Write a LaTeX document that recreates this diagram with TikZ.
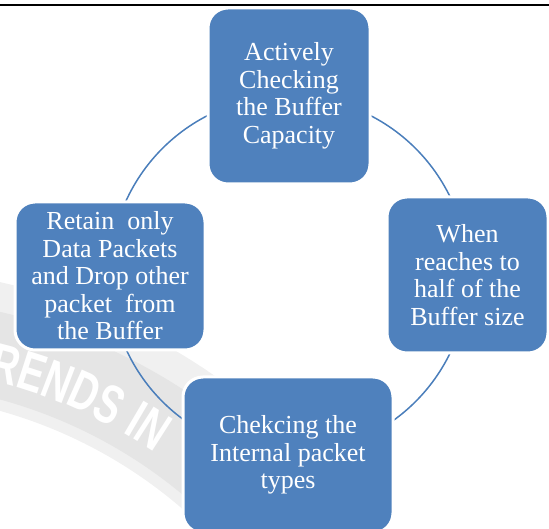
\documentclass[tikz,border=0pt]{standalone}
\usepackage{fontspec}
\setmainfont{Liberation Serif}
\newfontfamily\boxfont{Liberation Serif}
\newfontfamily\wmfont[FakeStretch=0.7]{Liberation Sans}
\usetikzlibrary{decorations.text}
\definecolor{boxblue}{HTML}{4F81BD}
\definecolor{arcblue}{HTML}{4A7EBB}
\definecolor{wmgray}{HTML}{E5E5E5}
\definecolor{wmfaint}{HTML}{F0F0F0}
\begin{document}
\begin{tikzpicture}[x=1pt,y=1pt,
  cyclebox/.style={draw=white, line width=3pt, fill=boxblue, rounded corners=20pt,
    text=white, align=center, inner sep=0pt, font=\boxfont\fontsize{26}{27.5}\selectfont},
  cyclearc/.style={draw=arcblue, line width=1.5pt},
  topline/.style={draw=black, line width=2pt}]
\useasboundingbox (0,0) rectangle (549,529);
\clip (0,0) rectangle (549,529);
% watermark band and text
\coordinate (wm) at (-127,-337);
\draw[wmfaint, line width=125pt] (wm) ++(98:535) arc[start angle=98, end angle=30, radius=535];
\draw[wmgray, line width=85pt] (wm) ++(98:526) arc[start angle=98, end angle=30, radius=526];
\path[decorate, decoration={text along path, text color=white,
   text={|\wmfont\bfseries\fontsize{55}{55}\selectfont|RENDS IN}, text align=left}]
   (wm) ++(76.8:500) arc[start angle=76.8, end angle=40, radius=500];
% top rule
\coordinate (tl) at (0,524);
\coordinate (tr) at (549,524);
\draw[topline] (tl) -- (tr);
% cycle
\coordinate (c) at (289,254);
\draw[cyclearc] (c) circle[radius=179];
\node[cyclebox, minimum width=162pt, minimum height=176pt] (top) at (289,433)
  {Actively\\Checking\\the Buffer\\Capacity};
\node[cyclebox, minimum width=161pt, minimum height=156pt] (right) at (467.5,254)
  {When\\reaches to\\half of the\\Buffer size};
\node[cyclebox, minimum width=190pt, minimum height=148pt] (left) at (110,253)
  {Retain\ \ only\\Data Packets\\and Drop other\\packet\ \ from\\the Buffer};
\node[cyclebox, minimum width=210pt, minimum height=156pt] (bottom) at (288,74)
  {Chekcing the\\Internal packet\\types};
\end{tikzpicture}
\end{document}
